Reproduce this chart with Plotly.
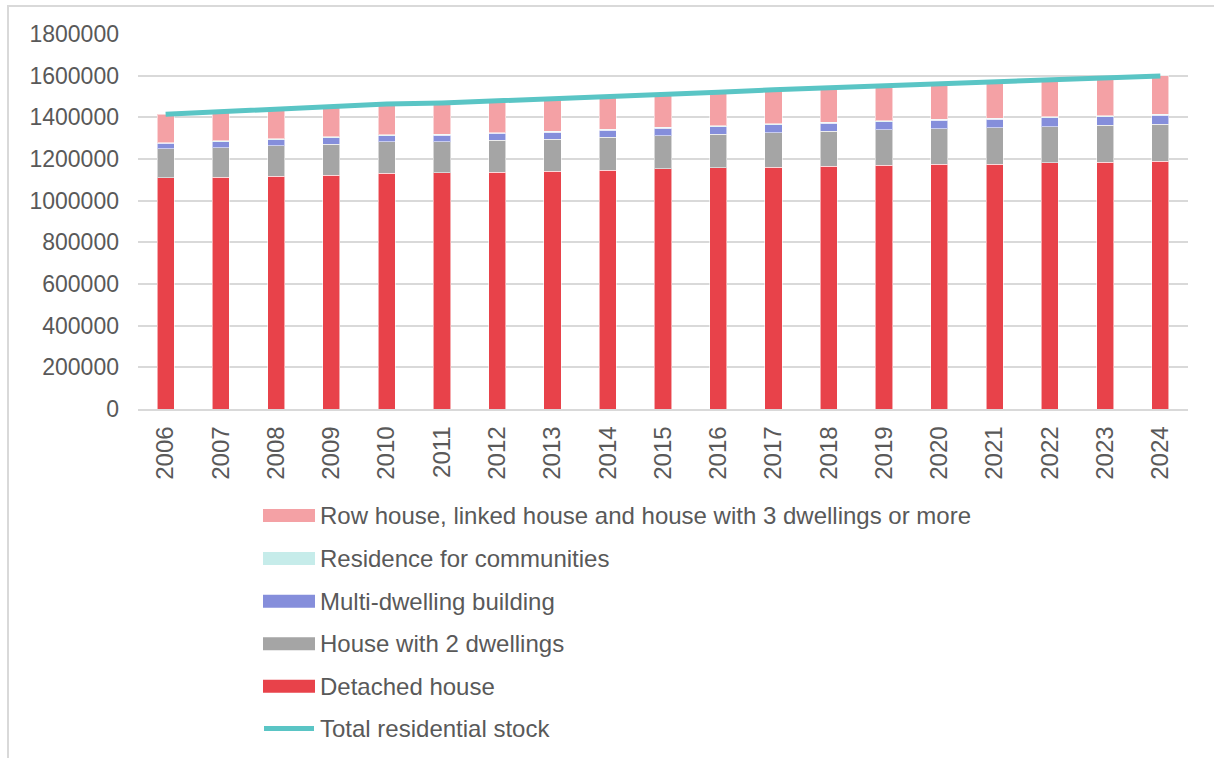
import plotly.graph_objects as go

years = [str(y) for y in range(2006, 2025)]

detached = [1110000, 1113000, 1118000, 1123000, 1132000, 1133000, 1137000, 1142000, 1147000, 1153000,
            1157000, 1161000, 1166000, 1171000, 1174000, 1175000, 1181000, 1185000, 1189000]
two_dwellings = [140000, 142000, 146000, 149000, 150000, 150000, 154000, 153000, 157000, 159000,
                 161000, 166000, 167000, 170000, 172000, 176000, 175000, 176000, 177000]
multi_dwelling = [25000, 28000, 29000, 30000, 30000, 32000, 32000, 34000, 35000, 36000,
                  38000, 38000, 39000, 39000, 40000, 40000, 42000, 43000, 44000]
communities = [4000, 4000, 4000, 4000, 4000, 4000, 4000, 4000, 4000, 4000,
               4000, 4000, 4000, 4000, 4000, 4000, 4000, 4000, 4000]
row_linked = [136000, 141000, 144000, 150000, 148000, 150000, 151000, 157000, 156000, 158000,
              160000, 163000, 166000, 168000, 171000, 176000, 180000, 183000, 185000]
total_stock = [1415000, 1428000, 1441000, 1456000, 1464000, 1469000, 1478000, 1490000, 1499000, 1510000,
               1520000, 1532000, 1542000, 1552000, 1561000, 1571000, 1582000, 1591000, 1599000]

y_ticks = [0, 200000, 400000, 600000, 800000, 1000000, 1200000, 1400000, 1600000, 1800000]

FONT = "Liberation Sans, Arial, sans-serif"
TEXT = "#595959"
GRID = "#d9d9d9"

bar_series = [
    ("Detached house", detached, "#E8424A"),
    ("House with 2 dwellings", two_dwellings, "#A5A5A5"),
    ("Multi-dwelling building", multi_dwelling, "#858EDB"),
    ("Residence for communities", communities, "#C6ECEA"),
    ("Row house, linked house and house with 3 dwellings or more", row_linked, "#F4A1A5"),
]
LINE_COLOR = "#5AC5C5"

fig = go.Figure()
for name, vals, col in bar_series:
    fig.add_trace(go.Bar(
        x=years, y=vals, name=name,
        marker=dict(color=col, line=dict(color="rgba(255,255,255,0.55)", width=1)),
        hoverinfo="skip",
    ))
fig.add_trace(go.Scatter(
    x=years, y=total_stock, name="Total residential stock", mode="lines",
    line=dict(color=LINE_COLOR, width=5), hoverinfo="skip",
))

# plot area in pixels: x 138..1188, y 34..409
L, R, T, B = 138, 1188, 34, 409
W, H = R - L, B - T


def px_x(p):
    return (p - L) / W


def px_y(p):
    return (B - p) / H


shapes = []
annotations = []

# chart-area frame
shapes.append(dict(type="rect", xref="paper", yref="paper",
                   x0=px_x(8), x1=px_x(1230), y0=px_y(6), y1=px_y(780),
                   line=dict(color="#d9d9d9", width=2), fillcolor="rgba(0,0,0,0)", layer="below"))

# legend, drawn top to bottom in reverse stacking order
legend_rows = [(bar_series[4][0], bar_series[4][2], "bar", 515.5),
               (bar_series[3][0], bar_series[3][2], "bar", 558.5),
               (bar_series[2][0], bar_series[2][2], "bar", 601.3),
               (bar_series[1][0], bar_series[1][2], "bar", 643.8),
               (bar_series[0][0], bar_series[0][2], "bar", 686.3),
               ("Total residential stock", LINE_COLOR, "line", 728.5)]
for name, col, kind, yc in legend_rows:
    if kind == "bar":
        shapes.append(dict(type="rect", xref="paper", yref="paper",
                           x0=px_x(263), x1=px_x(315), y0=px_y(yc + 6.5), y1=px_y(yc - 6.5),
                           fillcolor=col, line=dict(width=0)))
    else:
        shapes.append(dict(type="line", xref="paper", yref="paper",
                           x0=px_x(264), x1=px_x(314), y0=px_y(yc), y1=px_y(yc),
                           line=dict(color=col, width=5)))
    annotations.append(dict(text=name, xref="paper", yref="paper", x=px_x(318), y=px_y(yc),
                            xanchor="left", yanchor="middle", showarrow=False,
                            font=dict(family=FONT, size=24, color=TEXT)))

fig.update_layout(
    width=1214, height=758,
    margin=dict(l=L, r=1214 - R, t=T, b=758 - B, pad=0),
    paper_bgcolor="white", plot_bgcolor="white",
    barmode="stack", bargap=0.69,
    showlegend=False,
    font=dict(family=FONT, size=23, color=TEXT),
    shapes=shapes, annotations=annotations,
    xaxis=dict(type="category", tickangle=-90, showgrid=False, showline=True,
               linecolor=GRID, linewidth=1.5, ticks="", ticklabelstandoff=6,
               tickfont=dict(family=FONT, size=24, color=TEXT)),
    yaxis=dict(range=[0, 1800000], tickvals=y_ticks, ticktext=[str(v) for v in y_ticks],
               showgrid=True, gridcolor=GRID, gridwidth=1.5, zeroline=False,
               showline=False, ticks="", ticklabelstandoff=18,
               tickfont=dict(family=FONT, size=23, color=TEXT)),
)

fig.write_html("out.html")
